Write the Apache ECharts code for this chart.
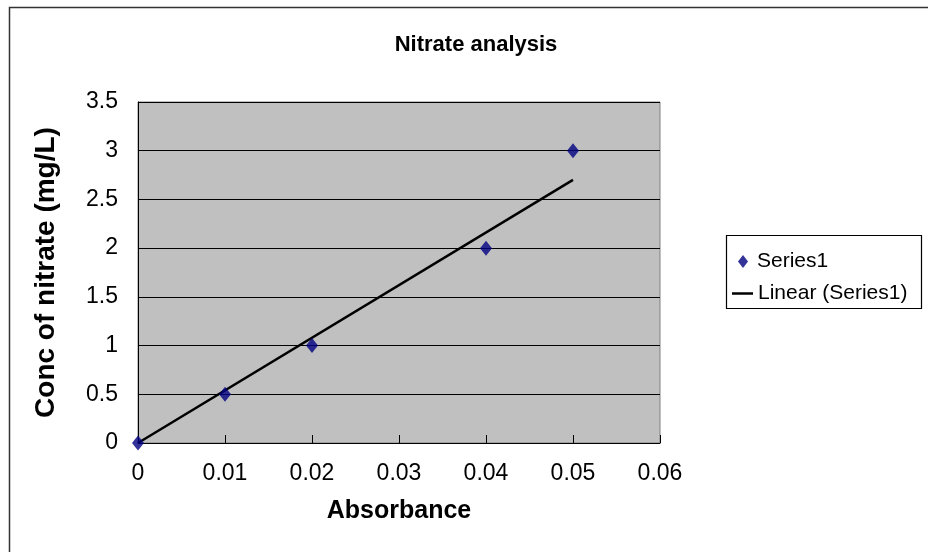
<!DOCTYPE html>
<html>
<head>
<meta charset="utf-8">
<script src="https://cdn.jsdelivr.net/npm/echarts@6/dist/echarts.min.js"></script>
<style>
html,body{margin:0;padding:0;background:#fff;}
#c{width:928px;height:552px;}
</style>
</head>
<body>
<div id="c"></div>
<script>
// Data
const absorbance = [0, 0.01, 0.02, 0.04, 0.05];
const concentration = [0, 0.5, 1, 2, 3];
const trendX = [0, 0.05];
const trendY = [0, 2.7];
const xTicks = [0, 0.01, 0.02, 0.03, 0.04, 0.05, 0.06];
const yTicks = [0, 0.5, 1, 1.5, 2, 2.5, 3, 3.5];
const seriesNames = ['Series1', 'Linear (Series1)'];

const FONT = "'Liberation Sans', Arial, sans-serif";
const chart = echarts.init(document.getElementById('c'), null, {renderer: 'canvas'});

const scatterData = absorbance.map((x, i) => [x, concentration[i]]);
const trendData = trendX.map((x, i) => [x, trendY[i]]);

const legendText = {fontFamily: FONT, fontSize: 21, color: '#000'};

chart.setOption({
  animation: false,
  backgroundColor: '#fff',
  textStyle: {fontFamily: FONT},
  title: {
    text: 'Nitrate analysis',
    left: 471, top: 29, textAlign: 'center',
    textStyle: {fontFamily: FONT, fontSize: 22, fontWeight: 'bold', color: '#000'}
  },
  graphic: [
    {
      type: 'rect', silent: true,
      shape: {x: 9.5, y: 7.5, width: 1000, height: 1000},
      style: {fill: 'none', stroke: '#333', lineWidth: 1.5}
    },
    {
      type: 'rect', silent: true,
      shape: {x: 726.5, y: 235.5, width: 195, height: 73},
      style: {fill: '#fff', stroke: '#000', lineWidth: 1.2},
      z: -1
    }
  ],
  legend: [
    {
      orient: 'vertical', left: 738, top: 251, padding: 0,
      itemWidth: 10, itemHeight: 13,
      textStyle: Object.assign({padding: [0, 0, 0, 4]}, legendText),
      data: [{name: seriesNames[0], icon: 'diamond'}]
    },
    {
      orient: 'vertical', left: 732, top: 283, padding: 0,
      itemWidth: 21, itemHeight: 2.5,
      textStyle: legendText,
      data: [{name: seriesNames[1], icon: 'rect'}]
    }
  ],
  grid: {
    left: 138, top: 102, width: 522, height: 341,
    show: true, backgroundColor: '#c0c0c0',
    borderColor: '#808080', borderWidth: 1
  },
  xAxis: {
    type: 'value',
    min: xTicks[0], max: xTicks[xTicks.length - 1], interval: 0.01,
    name: 'Absorbance', nameLocation: 'middle', nameGap: 56,
    nameTextStyle: {fontFamily: FONT, fontSize: 25, fontWeight: 'bold', color: '#000'},
    axisLine: {show: true, lineStyle: {color: '#000', width: 1}},
    axisTick: {show: true, inside: true, length: 8, lineStyle: {color: '#000'}},
    axisLabel: {fontFamily: FONT, fontSize: 23, color: '#000', margin: 19,
      formatter: v => String(Math.round(v * 100) / 100)},
    splitLine: {show: false}
  },
  yAxis: {
    type: 'value',
    min: yTicks[0], max: yTicks[yTicks.length - 1], interval: 0.5,
    name: 'Conc of nitrate (mg/L)', nameLocation: 'middle', nameGap: 78,
    nameRotate: 90,
    nameTextStyle: {fontFamily: FONT, fontSize: 28, fontWeight: 'bold', color: '#000'},
    axisLine: {show: true, lineStyle: {color: '#000', width: 1}},
    axisTick: {show: true, inside: true, length: 5, lineStyle: {color: '#000'}},
    axisLabel: {fontFamily: FONT, fontSize: 23, color: '#000', margin: 20},
    splitLine: {show: true, lineStyle: {color: '#000', width: 1}}
  },
  series: [
    {
      name: seriesNames[0], type: 'scatter',
      symbol: 'diamond', symbolSize: [12, 15],
      itemStyle: {color: '#000080'},
      data: scatterData, z: 3
    },
    {
      name: seriesNames[1], type: 'line',
      symbol: 'none', showSymbol: false,
      lineStyle: {color: '#000', width: 2.5},
      itemStyle: {color: '#000'},
      data: trendData, z: 2
    }
  ]
});
</script>
</body>
</html>
